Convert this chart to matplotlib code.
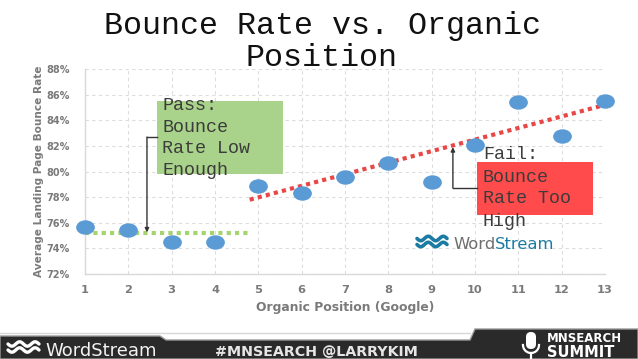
import numpy as np
import matplotlib.pyplot as plt
from matplotlib.path import Path
from matplotlib.patches import Rectangle, Polygon, FancyBboxPatch

# data
positions = [1, 2, 3, 4, 5, 6, 7, 8, 9, 10, 11, 12, 13]
bounce_rate = [75.7, 75.4, 74.5, 74.5, 78.9, 78.3, 79.6, 80.7, 79.2, 82.1, 85.4, 82.8, 85.5]
pass_trend_x = [1, 4.8]
pass_trend_y = [75.2, 75.2]
fail_trend_x = [4.8, 13]
fail_trend_y = [77.8, 85.2]
y_ticks = [72, 74, 76, 78, 80, 82, 84, 86, 88]
pass_lines = ["Pass:", "Bounce", "Rate Low", "Enough"]
fail_lines = ["Fail:", "Bounce", "Rate Too", "High"]

W, H = 638, 359
fig = plt.figure(figsize=(W / 100, H / 100), dpi=100)
fig.patch.set_facecolor('white')

ax = fig.add_axes([85 / W, 1 - 274 / H, 520 / W, 205 / H])
ax.set_xlim(1, 13)
ax.set_ylim(72, 88)
ax.set_xticks(positions)
ax.set_yticks(y_ticks)
ax.set_yticklabels([f"{v}%" for v in y_ticks])
ax.tick_params(length=0, labelcolor='#7a7a7a')
ax.tick_params(axis='y', pad=11, labelsize=7)
ax.tick_params(axis='x', pad=8, labelsize=8.2)
for lab in ax.get_xticklabels() + ax.get_yticklabels():
    lab.set_fontweight('bold')
ax.grid(True, ls=(0, (3, 3)), color='#dcdcdc', lw=0.8)
ax.set_axisbelow(True)
for s in ['top', 'right']:
    ax.spines[s].set_visible(False)
for s in ['left', 'bottom']:
    ax.spines[s].set_color('#d9d9d9')
    ax.spines[s].set_linewidth(1)

ax.set_xlabel('Organic Position (Google)', fontsize=8.9, fontweight='bold',
              color='#7a7a7a')
ax.set_ylabel('Average Landing Page Bounce Rate', fontsize=7.6, fontweight='bold',
              color='#7a7a7a')
ax.xaxis.set_label_coords(0.5, (274 - 301) / 205)
ax.yaxis.set_label_coords((44 - 85) / 520, 0.5)

# trend lines
ax.plot(pass_trend_x, pass_trend_y, color='#a3d470', lw=3, ls=(0, (1, 1)),
        zorder=2, clip_on=False)
ax.plot(fail_trend_x, fail_trend_y, color='#e84747', lw=3, ls=(0, (1, 1)),
        zorder=2, clip_on=False)

# elliptical markers
circ = Path.unit_circle()
ell = Path(circ.vertices * np.array([1.3, 1.0]), circ.codes)
ax.plot(positions, bounce_rate, ls='none', marker=ell, ms=13.5,
        color='#5b9bd5', mec='none', zorder=3, clip_on=False)

# callout boxes
ax.add_patch(Rectangle((2.66, 79.8), 5.57 - 2.66, 85.5 - 79.8,
                       facecolor='#a9d38a', edgecolor='none', zorder=4))
ax.add_patch(Rectangle((10.05, 76.6), 12.72 - 10.05, 80.74 - 76.6,
                       facecolor='#ff4b4b', edgecolor='none', zorder=4))

pass_base = [84.8, 83.08, 81.44, 79.73]
fail_base = [80.98, 79.18, 77.54, 75.75]
for t, y in zip(pass_lines, pass_base):
    ax.text(2.78, y, t, family='Liberation Mono', fontsize=13.2,
            color='#3c3c3c', va='baseline', zorder=5)
for t, y in zip(fail_lines, fail_base):
    ax.text(10.18, y, t, family='Liberation Mono', fontsize=13.2,
            color='#3c3c3c', va='baseline', zorder=5)

# elbow arrows
ax.plot([2.66, 2.43], [82.69, 82.69], color='#333333', lw=1, zorder=5)
ax.annotate('', xy=(2.43, 75.25), xytext=(2.43, 82.69),
            arrowprops=dict(arrowstyle='-|>', color='#333333', lw=1,
                            mutation_scale=6, shrinkA=0, shrinkB=0), zorder=5)
ax.plot([10.05, 9.49], [78.71, 78.71], color='#333333', lw=1, zorder=5)
ax.annotate('', xy=(9.49, 81.9), xytext=(9.49, 78.71),
            arrowprops=dict(arrowstyle='-|>', color='#333333', lw=1,
                            mutation_scale=6, shrinkA=0, shrinkB=0), zorder=5)

# overlay in pixel coordinates for slide decorations
ov = fig.add_axes([0, 0, 1, 1], zorder=10)
ov.set_xlim(0, W)
ov.set_ylim(H, 0)
ov.axis('off')
ov.patch.set_alpha(0)

ov.text(322, 34, 'Bounce Rate vs. Organic', family='Liberation Mono',
        fontsize=22.9, ha='center', va='baseline', color='#111111')
ov.text(321, 66, 'Position', family='Liberation Mono',
        fontsize=22.9, ha='center', va='baseline', color='#111111')


def waves(x0, y0, w, color, lw):
    xs = np.linspace(0, 1, 60)
    for dy in (0, 6):
        ov.plot(x0 + xs * w, y0 + dy + 2.2 * np.sin(xs * 4 * np.pi),
                color=color, lw=lw, solid_capstyle='round')


# WordStream logo inside the chart
waves(417, 238.5, 30, '#1c7ba3', 2.6)
tw = ov.text(453, 249, 'Word', fontsize=11.8, color='#6e6e6e', va='baseline')
ov.annotate('Stream', xy=(1, 0), xycoords=tw, fontsize=11.8, color='#1c7ba3',
            va='bottom', ha='left')

# bottom bar
ov.plot([0, 470], [333, 333], color='#d8d8d8', lw=1)
bar = Polygon([(0, 336), (160, 336), (166, 340), (470, 340), (475, 329),
               (638, 329), (638, 359), (0, 359)], closed=True,
              facecolor='#2a2a2a', edgecolor='#9a9a9a', lw=1)
ov.add_patch(bar)
waves(8, 344, 31, 'white', 2.4)
ov.text(45, 356, 'WordStream', fontsize=13, color='#f2f2f2', va='baseline')
ov.text(215, 356, '#MNSEARCH @LARRYKIM', fontsize=10.3, fontweight='bold',
        color='#e6e6e6', va='baseline')

# microphone
ov.add_patch(FancyBboxPatch((526, 332), 10, 17, boxstyle='round,pad=0,rounding_size=5',
                            facecolor='white', edgecolor='none'))
t = np.linspace(np.pi, 2 * np.pi, 30)
ov.plot(531 + 8 * np.cos(t), 345 - 8 * np.sin(t), color='white', lw=1.6)
ov.plot([531, 531], [353, 359], color='white', lw=1.6)

ov.text(547, 342, 'MNSEARCH', fontsize=8.5, fontweight='bold', color='white',
        va='baseline')
ov.text(547, 357, 'SUMMIT', fontsize=10.5, fontweight='bold', color='white',
        va='baseline')

fig.savefig('out.png', dpi=100)
